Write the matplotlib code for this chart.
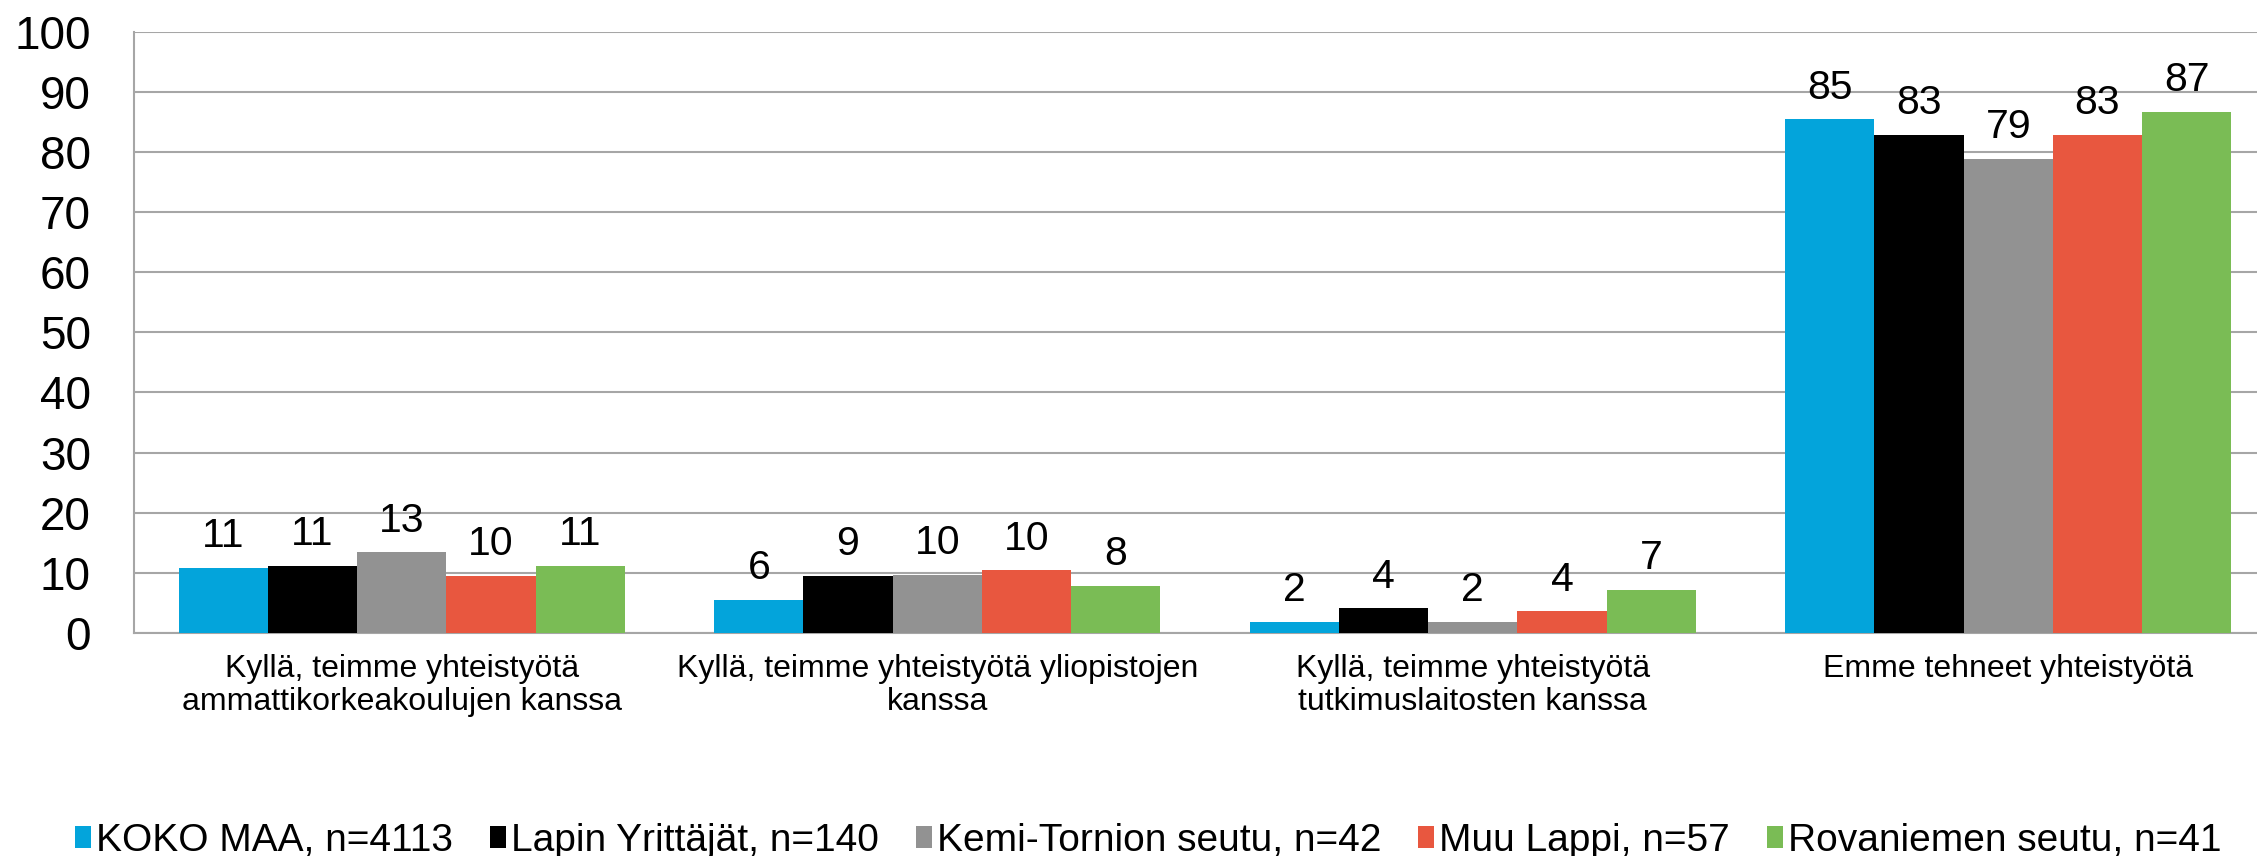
import matplotlib
matplotlib.use("Agg")
import matplotlib.pyplot as plt
from matplotlib.patches import Patch
import numpy as np

plt.rcParams['font.family'] = ['Liberation Sans', 'DejaVu Sans']

categories = [
    "Kyllä, teimme yhteistyötä\nammattikorkeakoulujen kanssa",
    "Kyllä, teimme yhteistyötä yliopistojen\nkanssa",
    "Kyllä, teimme yhteistyötä\ntutkimuslaitosten kanssa",
    "Emme tehneet yhteistyötä",
]
series_names = [
    "KOKO MAA, n=4113",
    "Lapin Yrittäjät, n=140",
    "Kemi-Tornion seutu, n=42",
    "Muu Lappi, n=57",
    "Rovaniemen seutu, n=41",
]
koko_maa = [10.8, 5.55, 1.8, 85.4]
lapin_yrittajat = [11.2, 9.45, 4.1, 82.8]
kemi_tornio = [13.4, 9.7, 1.9, 78.8]
muu_lappi = [9.55, 10.4, 3.6, 82.9]
rovaniemi = [11.2, 7.85, 7.2, 86.7]
series_values = [koko_maa, lapin_yrittajat, kemi_tornio, muu_lappi, rovaniemi]
colors = ["#03A4DB", "#000000", "#929292", "#E8573F", "#7ABC55"]
yticks = [0, 10, 20, 30, 40, 50, 60, 70, 80, 90, 100]

W, H = 2257, 856
fig = plt.figure(figsize=(W / 100, H / 100), dpi=100)
left_px, right_px, bottom_px, top_px = 134, 2276, 633, 31.7
ax = fig.add_axes([left_px / W, (H - bottom_px) / H,
                   (right_px - left_px) / W, (bottom_px - top_px) / H])

x = np.arange(len(categories))
bw = 1 / 6
n = len(series_values)
for i, (vals, c, name) in enumerate(zip(series_values, colors, series_names)):
    pos = x + (i - (n - 1) / 2) * bw
    ax.bar(pos, vals, width=bw, color=c, label=name, zorder=3)
    for px_, v in zip(pos, vals):
        ax.annotate(f"{v:.0f}", (px_, v), xytext=(0, 15), textcoords="offset points",
                    ha="center", va="baseline", fontsize=29.5, color="black")

ax.set_xlim(-0.5, len(categories) - 0.5)
ax.set_ylim(0, 100)
ax.set_yticks(yticks)
ax.set_yticklabels([str(t) for t in yticks], fontsize=33)
ax.set_xticks(x)
ax.set_xticklabels(categories, fontsize=23, linespacing=1.15)
ax.tick_params(axis="y", length=0, pad=31)
ax.tick_params(axis="x", length=0, pad=15)
ax.yaxis.grid(True, color="#A6A6A6", linewidth=1.5, zorder=0)
ax.set_axisbelow(True)
for s in ["top", "right"]:
    ax.spines[s].set_visible(False)
for s in ["left", "bottom"]:
    ax.spines[s].set_color("#A6A6A6")
    ax.spines[s].set_linewidth(1.5)

handles = [Patch(facecolor=c, edgecolor="none") for c in colors]
fig.legend(handles, series_names, loc="center", bbox_to_anchor=(1148 / W, 1 - 841 / H),
           ncol=5, frameon=False, fontsize=28, handlelength=0.42, handleheight=0.5,
           handletextpad=0.12, columnspacing=0.95, borderaxespad=0, borderpad=0)

fig.savefig("out.png", dpi=100)
